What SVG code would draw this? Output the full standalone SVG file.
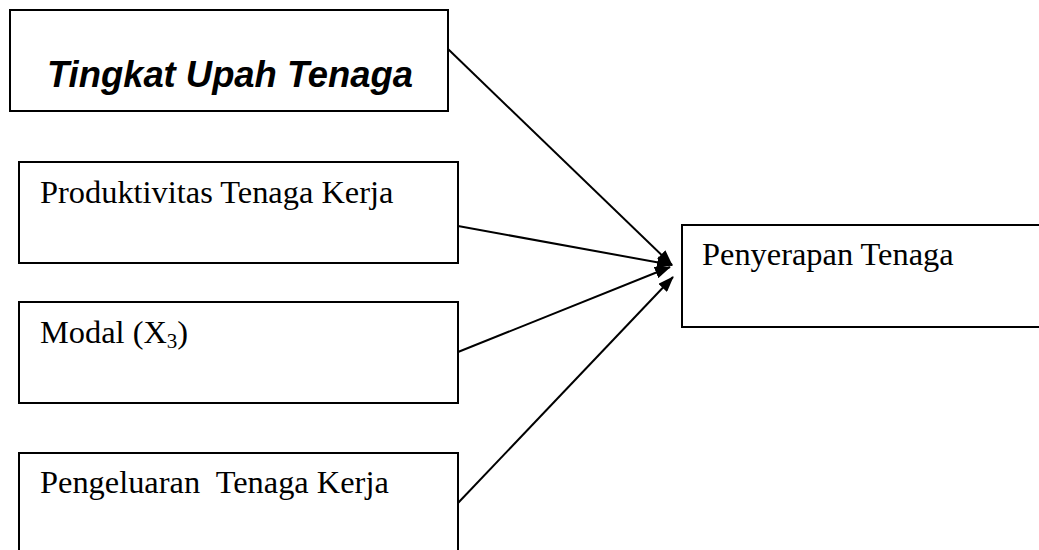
<svg xmlns="http://www.w3.org/2000/svg" width="1039" height="550" viewBox="0 0 1039 550">
<style>
.box{fill:#fff;stroke:#000;stroke-width:2}
.t{font-family:"Liberation Serif","Times New Roman",serif;font-size:32.4px;fill:#000}
.b{font-family:"Liberation Sans",Arial,sans-serif;font-size:36.4px;font-weight:bold;font-style:italic;fill:#000}
.c{stroke:#000;stroke-width:2;fill:none;marker-end:url(#ah)}
</style>
<defs>
<marker id="ah" markerWidth="16" markerHeight="12" refX="15" refY="6" orient="auto" markerUnits="userSpaceOnUse">
<path d="M0,0 L16,6 L0,12 Z" fill="#000"/>
</marker>
</defs>
<rect width="1039" height="550" fill="#fff"/>
<g id="node-upah">
<rect class="box" x="10" y="10" width="438" height="101"/>
<text class="b" x="47" y="87">Tingkat Upah Tenaga</text>
</g>
<g id="node-produktivitas">
<rect class="box" x="19" y="162" width="439" height="101"/>
<text class="t" x="40" y="203">Produktivitas Tenaga Kerja</text>
</g>
<g id="node-modal">
<rect class="box" x="19" y="302" width="439" height="101"/>
<text class="t" x="40" y="343">Modal (X<tspan font-size="21" dy="5">3</tspan><tspan dy="-5">)</tspan></text>
</g>
<g id="node-pengeluaran">
<rect class="box" x="19" y="453" width="439" height="110"/>
<text class="t" x="40" y="493" xml:space="preserve">Pengeluaran  Tenaga Kerja</text>
</g>
<g id="node-penyerapan">
<rect class="box" x="682" y="225" width="370" height="102"/>
<text class="t" x="702" y="265">Penyerapan Tenaga</text>
</g>
<g id="connectors">
<line class="c" x1="448" y1="49" x2="672" y2="265"/>
<line class="c" x1="458" y1="226" x2="672" y2="265"/>
<line class="c" x1="458" y1="352" x2="670" y2="267"/>
<line class="c" x1="458" y1="503" x2="673" y2="277"/>
</g>
</svg>
